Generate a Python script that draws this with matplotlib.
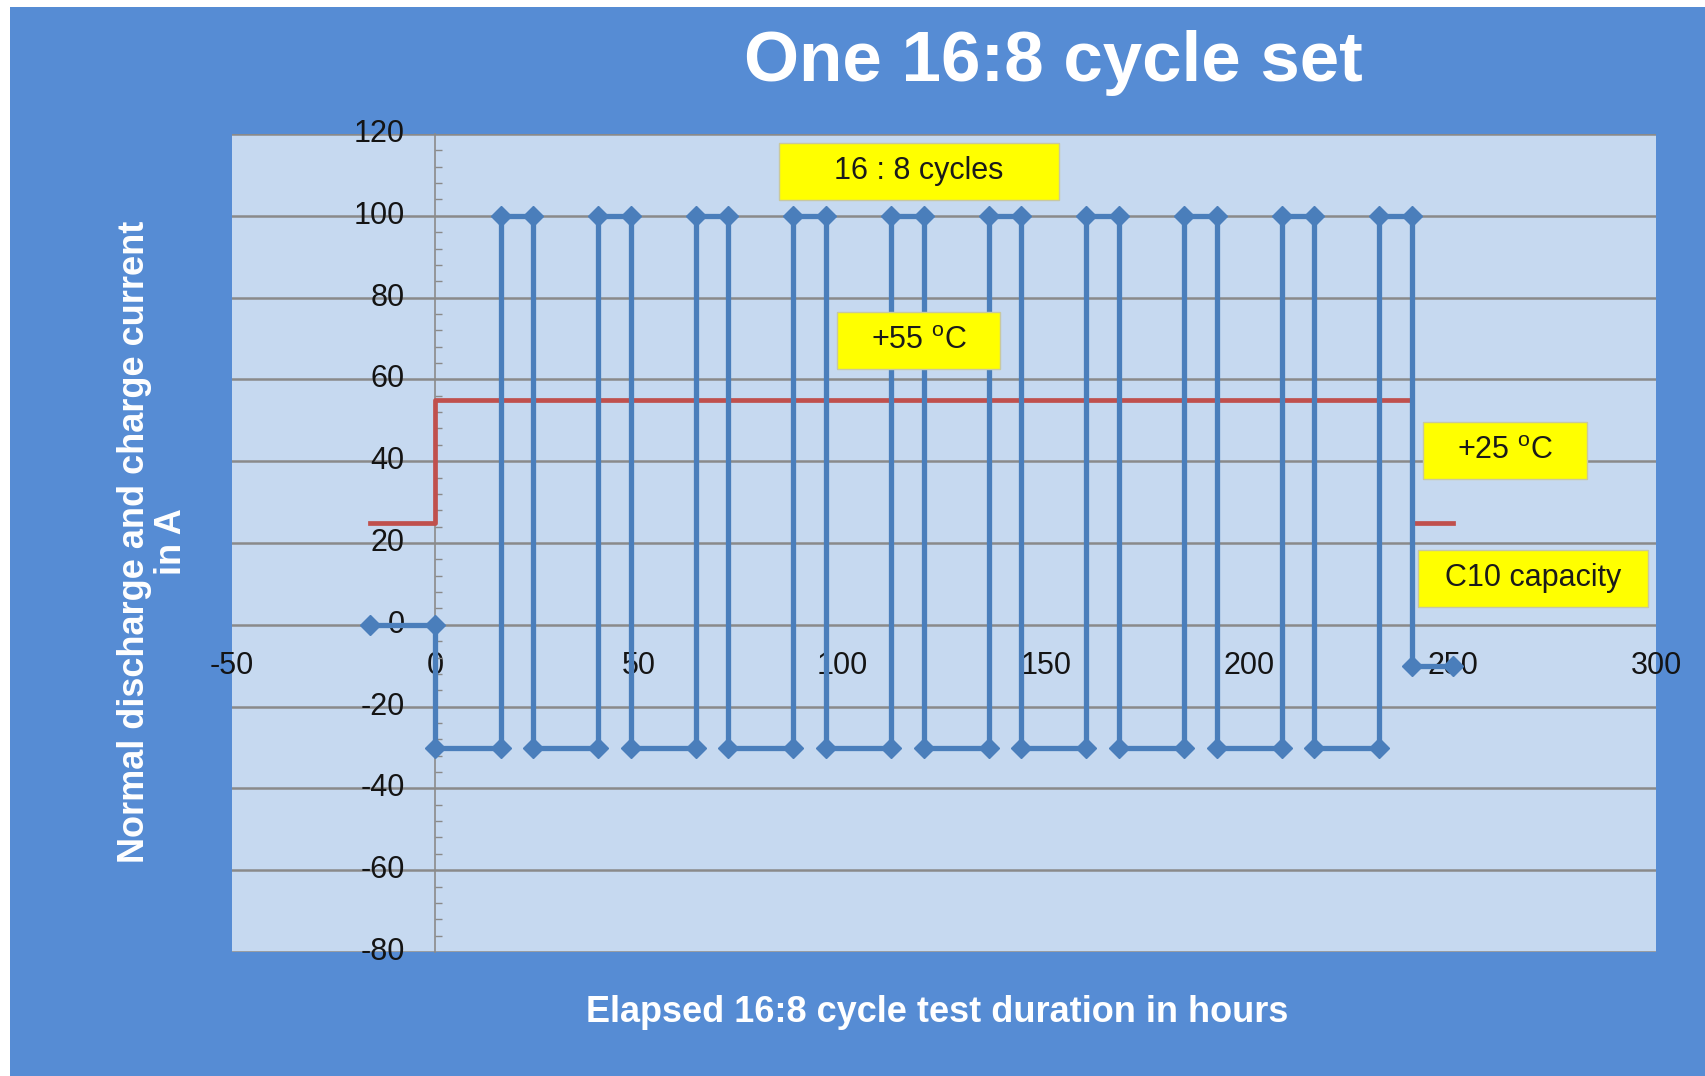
import matplotlib
matplotlib.use('Agg')
import matplotlib.pyplot as plt
from matplotlib.patches import Rectangle

plt.rcParams['font.family'] = ['Liberation Sans', 'DejaVu Sans']
plt.rcParams['mathtext.fontset'] = 'custom'
plt.rcParams['mathtext.rm'] = 'Liberation Sans'
plt.rcParams['axes.unicode_minus'] = False

# current profile (A) over elapsed time (h)
current_hours = [-16, 0, 0, 16, 16, 24, 24, 40, 40, 48, 48, 64, 64, 72, 72, 88, 88, 96, 96,
                 112, 112, 120, 120, 136, 136, 144, 144, 160, 160, 168, 168, 184, 184, 192, 192,
                 208, 208, 216, 216, 232, 232, 240, 240, 250]
current_amps = [0, 0, -30, -30, 100, 100, -30, -30, 100, 100, -30, -30, 100, 100, -30, -30, 100, 100,
                -30, -30, 100, 100, -30, -30, 100, 100, -30, -30, 100, 100, -30, -30, 100, 100,
                -30, -30, 100, 100, -30, -30, 100, 100, -10, -10]

# temperature profile (deg C)
temp_hours = [-16, 0, 0, 240, 240, 250]
temp_degc = [25, 25, 55, 55, 25, 25]

x_ticks = [-50, 0, 50, 100, 150, 200, 250, 300]
y_ticks = [-80, -60, -40, -20, 0, 20, 40, 60, 80, 100, 120]

# yellow note boxes: text, (x0, x1), (y0, y1) in data units
notes = [('16 : 8 cycles', (84.5, 153.3), (103.9, 117.8)),
         (r'+55 $^{\rm o}$C', (98.8, 138.8), (62.5, 76.5)),
         (r'+25 $^{\rm o}$C', (242.8, 283.0), (35.6, 49.6)),
         ('C10 capacity', (241.5, 298.0), (4.4, 18.3))]

W, H = 1706, 1076
fig = plt.figure(figsize=(W / 100, H / 100), dpi=100, facecolor='white')
# blue chart background (thin white strip at top/left like the screenshot)
fig.patches.append(Rectangle((10 / W, 0), 1, 1 - 7 / H, transform=fig.transFigure,
                             facecolor='#568CD4', edgecolor='none', zorder=-10))

ax = fig.add_axes([232 / W, 1 - 952 / H, (1656 - 232) / W, (952 - 134) / H])
ax.set_facecolor('#C6D9F0')
ax.set_xlim(-50, 300)
ax.set_ylim(-80, 120)

for y in y_ticks:
    ax.axhline(y, color='#8A8A8A', lw=1.8, zorder=1)

ax.plot(temp_hours, temp_degc, color='#C0504D', lw=3.4, zorder=3)
ax.plot(current_hours, current_amps, color='#4A7EBB', lw=3.8, marker='D', markersize=10,
        markerfacecolor='#4A7EBB', markeredgecolor='#4A7EBB', zorder=4)

for label, (x0, x1), (y0, y1) in notes:
    ax.add_patch(Rectangle((x0, y0), x1 - x0, y1 - y0, facecolor='#FFFF00',
                           edgecolor='#C8C8A0', lw=1, zorder=5))
    ax.text((x0 + x1) / 2, (y0 + y1) / 2, label, ha='center', va='center',
            fontsize=22, color='#1A1A1A', zorder=6)

# axes crossing at (0, 0) like excel
for side in ['top', 'right']:
    ax.spines[side].set_visible(False)
ax.spines['left'].set_position(('data', 0))
ax.spines['left'].set_color('#8A8A8A')
ax.spines['left'].set_linewidth(1.2)
ax.spines['bottom'].set_position(('data', 0))
ax.spines['bottom'].set_color('none')

ax.set_xticks(x_ticks)
ax.set_yticks(y_ticks)
ax.set_yticks([v for v in range(-80, 121, 4)], minor=True)
ax.tick_params(axis='y', which='major', length=0, pad=22)
ax.tick_params(axis='y', which='minor', direction='in', length=5, width=1, color='#8A8A8A')
ax.tick_params(axis='x', which='major', length=0, pad=19)
for lab in ax.get_xticklabels() + ax.get_yticklabels():
    lab.set_fontsize(22)
    lab.set_color('#141414')
for lab in ax.get_yticklabels():
    lab.set_verticalalignment('center')

fig.text(1053 / W, 1 - 63 / H, 'One 16:8 cycle set', ha='center', va='center',
         fontsize=51, fontweight='bold', color='white')
fig.text(937 / W, 1 - 1012 / H, 'Elapsed 16:8 cycle test duration in hours', ha='center',
         va='center', fontsize=26, fontweight='bold', color='white')
fig.text(153 / W, 1 - 542 / H, 'Normal discharge and charge current\nin A', ha='center',
         va='center', rotation=90, fontsize=26, fontweight='bold', color='white',
         multialignment='center', linespacing=1.05)

fig.savefig('out.png', dpi=100, facecolor='white')
